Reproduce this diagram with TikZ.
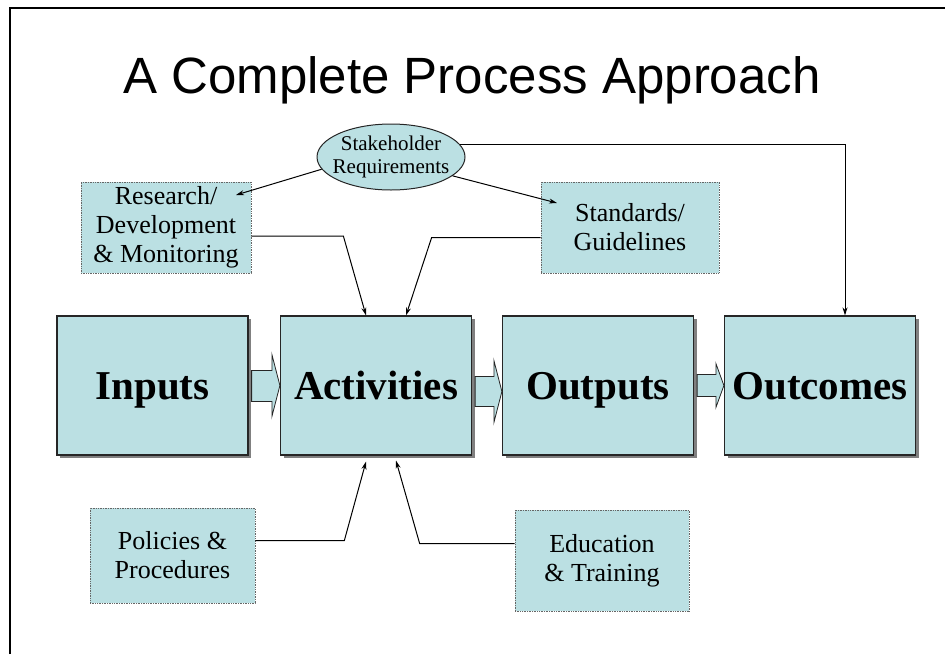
\documentclass[tikz,border=0pt]{standalone}
\usepackage{fontspec}
\setmainfont{Liberation Serif}
\newfontfamily\headfont{Liberation Sans}
\usepackage{tikz}
\usetikzlibrary{arrows.meta,shapes.geometric,shadows,calc}
\definecolor{boxblue}{RGB}{187,224,227}

\begin{document}
\begin{tikzpicture}[x=1pt,y=-1pt,
  >={Stealth[length=8pt,width=5pt]},
  stage/.style={draw=black!85, line width=1.2pt, fill=boxblue,
    minimum width=191pt, minimum height=139pt, text height=36pt, text depth=9pt,
    font=\bfseries\fontsize{41}{44}\selectfont,
    drop shadow={shadow xshift=3pt, shadow yshift=-3pt, fill=black!50, opacity=1}},
  factor/.style={draw=black!60, densely dotted, line width=0.7pt, fill=boxblue,
    align=center, font=\fontsize{26}{29}\selectfont},
  link/.style={->, line width=1pt},
  blockarrow/.style={draw=black!85, line width=0.8pt, fill=boxblue}]

  \useasboundingbox (0,0) rectangle (945,654);
  \draw[line width=2.5pt] (10,654) -- (10,8) -- (945,8);

  \node[font=\headfont\fontsize{51}{56}\selectfont, anchor=base] (title) at (472,93) {A Complete Process Approach};

  \node[ellipse, draw=black!85, line width=1pt, fill=boxblue, minimum width=148pt, minimum height=66pt,
    inner xsep=-6pt, inner ysep=0pt, align=center, font=\fontsize{21}{23}\selectfont] (stake) at (391,157) {Stakeholder\\Requirements};

  \node[factor, minimum width=170pt, minimum height=91pt] (rnd) at (166,227.5) {Research/\\Development\\\& Monitoring};
  \node[factor, minimum width=178pt, minimum height=91pt] (std) at (630,227.5) {Standards/\\Guidelines};
  \node[factor, minimum width=165pt, minimum height=95pt] (pol) at (172.5,555.5) {Policies \&\\Procedures};
  \node[factor, minimum width=174pt, minimum height=101pt] (edu) at (602,560.5) {Education\\\& Training};

  \node[stage] (inp) at (152.5,385.5) {Inputs};
  \node[stage] (act) at (376,385.5) {Activities};
  \node[stage] (outp) at (598,385.5) {Outputs};
  \node[stage] (outc) at (820,385.5) {Outcomes};

  % block arrows between the stages
  \draw[blockarrow] ($(inp.east)+(3,-15)$) -- ($(act.west)+(-8,-15)$) -- ($(act.west)+(-8,-31)$) -- (act.west)
    -- ($(act.west)+(-8,31)$) -- ($(act.west)+(-8,16)$) -- ($(inp.east)+(3,16)$) -- cycle;
  \draw[blockarrow] ($(act.east)+(3,-9)$) -- ($(outp.west)+(-8,-9)$) -- ($(outp.west)+(-8,-25)$) -- ($(outp.west)+(0,6)$)
    -- ($(outp.west)+(-8,37)$) -- ($(outp.west)+(-8,21)$) -- ($(act.east)+(3,21)$) -- cycle;
  \draw[blockarrow] ($(outp.east)+(3,-11)$) -- ($(outc.west)+(-8,-11)$) -- ($(outc.west)+(-8,-22)$) -- (outc.west)
    -- ($(outc.west)+(-8,22)$) -- ($(outc.west)+(-8,11)$) -- ($(outp.east)+(3,11)$) -- cycle;

  \coordinate (rndtip) at (236,195);
  \coordinate (stdtip) at (557,203);

  \draw[link] (stake.190) -- (rndtip);
  \draw[link] (stake.-17) -- (stdtip);
  \draw[link] (stake.10) -| ($(outc.north)+(25,0)$);

  \draw[link] ($(rnd.east)+(0,8.5)$) -- ++(92,0) -- ($(act.north)+(-10,0)$);
  \draw[link] ($(std.west)+(0,10)$) -- ++(-109,0) -- ($(act.north)+(30,0)$);
  \draw[link] ($(pol.east)+(0,-15)$) -- ++(89,0) -- ($(act.south)+(-10,6)$);
  \draw[link] ($(edu.west)+(0,-17)$) -- ++(-95,0) -- ($(act.south)+(20,5)$);

\end{tikzpicture}
\end{document}
